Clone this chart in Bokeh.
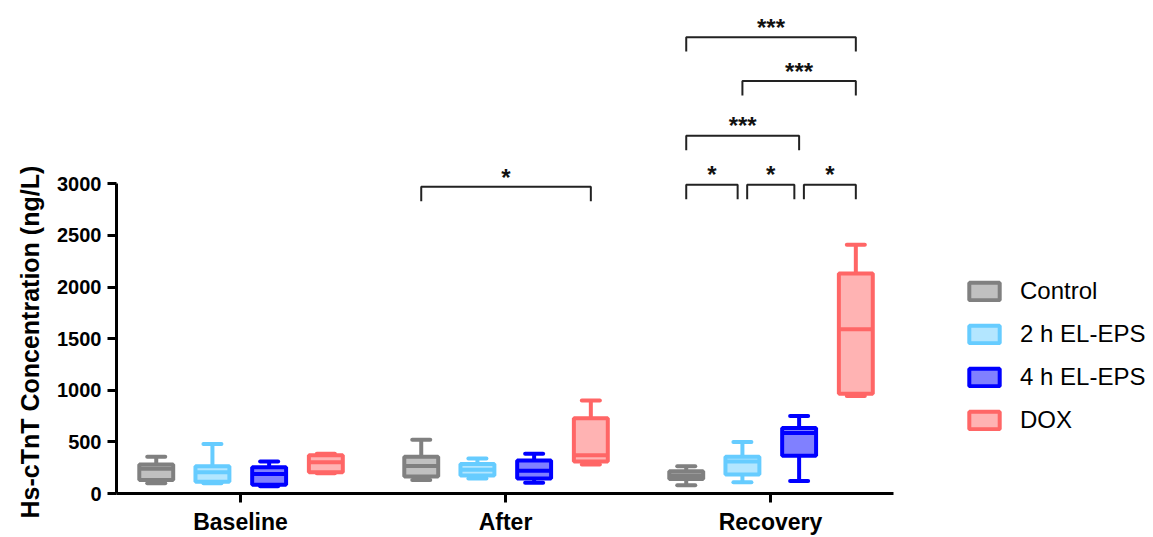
import math
from bokeh.plotting import figure
from bokeh.models import Range1d, FixedTicker, Legend, LegendItem, Title, ColumnDataSource
from bokeh.embed import file_html
from bokeh.resources import INLINE
from bokeh.core.properties import value

# ---------------- data ----------------
groups = ["Baseline", "After", "Recovery"]
series = ["Control", "2 h EL-EPS", "4 h EL-EPS", "DOX"]

# per series: values for Baseline, After, Recovery
control_min = [100, 130, 80]
control_q1 = [130, 165, 140]
control_med = [240, 267, 175]
control_q3 = [280, 355, 215]
control_max = [355, 520, 265]

eps2_min = [100, 145, 110]
eps2_q1 = [115, 175, 185]
eps2_med = [205, 230, 310]
eps2_q3 = [265, 285, 355]
eps2_max = [480, 340, 500]

eps4_min = [70, 105, 120]
eps4_q1 = [85, 145, 365]
eps4_med = [190, 220, 585]
eps4_q3 = [255, 320, 635]
eps4_max = [310, 385, 750]

dox_min = [195, 280, 945]
dox_q1 = [205, 310, 965]
dox_med = [302, 370, 1590]
dox_q3 = [370, 730, 2130]
dox_max = [385, 900, 2410]

# significance brackets: group index, from series, to series, height, label
br_group = [1, 2, 2, 2, 2, 2, 2]
br_from = [0, 0, 1, 0, 0, 1, 2]
br_to = [3, 3, 3, 2, 1, 2, 3]
br_y = [2970, 4420, 3995, 3465, 2990, 2990, 2990]
br_text = ["*", "***", "***", "***", "*", "*", "*"]

y_ticks = [0, 500, 1000, 1500, 2000, 2500, 3000]

# ---------------- style ----------------
edge_colors = ["#808080", "#66CCFF", "#0000FF", "#FF6666"]
fill_colors = ["#C0C0C0", "#B3E6FF", "#8080FF", "#FFB3B3"]
offsets = [-0.318, -0.106, 0.108, 0.322]
box_w = 0.128
cap_w = 0.068
FONT = "Liberation Sans"

stats = [
    (control_min, control_q1, control_med, control_q3, control_max),
    (eps2_min, eps2_q1, eps2_med, eps2_q3, eps2_max),
    (eps4_min, eps4_q1, eps4_med, eps4_q3, eps4_max),
    (dox_min, dox_q1, dox_med, dox_q3, dox_max),
]

px_per_unit = 311 / 3000
frame_h = 493
p = figure(width=1150, height=537, output_backend="svg", toolbar_location=None,
           x_range=Range1d(-0.468, 3.434), y_range=Range1d(0, frame_h / px_per_unit),
           min_border_left=116, min_border_right=0, min_border_top=2, min_border_bottom=42)
p.outline_line_color = None
p.grid.visible = False
p.background_fill_color = "white"

legend_items = []
for s, (mn, q1, md, q3, mx) in enumerate(stats):
    xs = [g + offsets[s] for g in range(len(groups))]
    src = ColumnDataSource(dict(x=xs, mn=mn, q1=q1, md=md, q3=q3, mx=mx,
                                cl=[x - cap_w / 2 for x in xs], cr=[x + cap_w / 2 for x in xs],
                                bl=[x - box_w / 2 for x in xs], br=[x + box_w / 2 for x in xs]))
    col = edge_colors[s]
    # whiskers
    p.segment(x0="x", y0="q3", x1="x", y1="mx", source=src, line_color=col, line_width=4)
    p.segment(x0="x", y0="q1", x1="x", y1="mn", source=src, line_color=col, line_width=4)
    # caps
    p.segment(x0="cl", y0="mx", x1="cr", y1="mx", source=src, line_color=col, line_width=4, line_cap="round")
    p.segment(x0="cl", y0="mn", x1="cr", y1="mn", source=src, line_color=col, line_width=4, line_cap="round")
    # box
    r = p.vbar(x="x", width=box_w, bottom="q1", top="q3", source=src,
               fill_color=fill_colors[s], line_color=col, line_width=4)
    # median
    p.segment(x0="bl", y0="md", x1="br", y1="md", source=src, line_color=col, line_width=4)
    legend_items.append(LegendItem(label=series[s], renderers=[r]))

# brackets
tick_len = 140
gap = 0.018
bx, by, tx, ty = [], [], [], []
for i in range(len(br_y)):
    g = br_group[i]
    x1 = g + offsets[br_from[i]]
    x2 = g + offsets[br_to[i]]
    # shrink where adjacent brackets on the same level meet
    for j in range(len(br_y)):
        if j != i and br_group[j] == g and br_y[j] == br_y[i]:
            if br_to[j] == br_from[i]:
                x1 += gap
            if br_from[j] == br_to[i]:
                x2 -= gap
    y = br_y[i]
    bx.append([x1, x1, x2, x2])
    by.append([y - tick_len, y, y, y - tick_len])
    tx.append((x1 + x2) / 2)
    ty.append(y + 95)
p.multi_line(xs=bx, ys=by, line_color="#222222", line_width=2)
p.text(x=tx, y=ty, text=br_text, text_align="center", text_baseline="alphabetic",
       text_font=value(FONT), text_font_style="bold", text_font_size="24px", text_color="#111111")

# axes
p.xaxis.ticker = FixedTicker(ticks=list(range(len(groups))))
p.xaxis.major_label_overrides = {i: g for i, g in enumerate(groups)}
p.xaxis.bounds = (-0.468, 2.464)
p.yaxis.ticker = FixedTicker(ticks=y_ticks)
p.yaxis.bounds = (0, 3000)
for ax in (p.xaxis[0], p.yaxis[0]):
    ax.axis_line_width = 3
    ax.axis_line_color = "black"
    ax.major_tick_line_width = 3
    ax.major_tick_line_color = "black"
    ax.major_tick_out = 9
    ax.major_tick_in = 0
    ax.minor_tick_out = 0
    ax.minor_tick_in = 0
    ax.major_label_text_font = FONT
    ax.major_label_text_font_style = "bold"
    ax.major_label_text_color = "black"
p.xaxis.major_label_text_font_size = "23px"
p.xaxis.major_label_standoff = 6
p.yaxis.major_label_text_font_size = "20px"
p.yaxis.major_label_standoff = 6

ytitle = Title(text="Hs-cTnT Concentration (ng/L)", align="left", offset=-25,
               text_font=FONT, text_font_style="bold", text_font_size="25px",
               text_color="black", standoff=22)
p.add_layout(ytitle, "left")

legend = Legend(items=legend_items, location=(849, 59), glyph_width=38, glyph_height=22,
                label_text_font=FONT, label_text_font_size="24px", label_text_color="black",
                label_standoff=17, label_height=22, spacing=15, padding=0, margin=0,
                border_line_color=None, background_fill_alpha=0)
p.add_layout(legend)

open("out.html", "w").write(file_html(p, INLINE))
